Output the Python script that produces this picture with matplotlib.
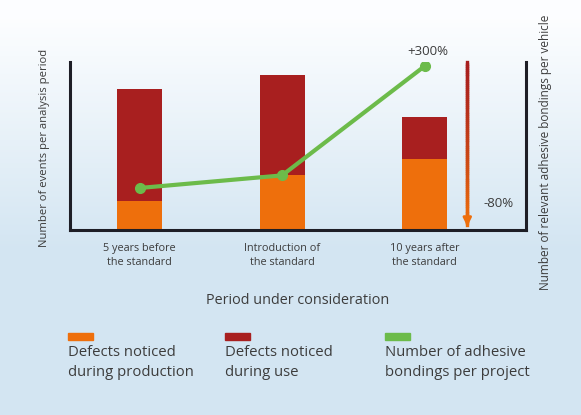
import numpy as np
import matplotlib
matplotlib.use('Agg')
import matplotlib.pyplot as plt
from matplotlib.collections import LineCollection
from matplotlib.patches import Rectangle

# data (arbitrary units)
periods = ['5 years before\nthe standard', 'Introduction of\nthe standard', '10 years after\nthe standard']
defects_production = [17, 33, 42]
defects_use = [67, 59, 25]
bondings = [1.0, 1.3, 3.9]

c_orange = '#ee6f0c'
c_red = '#a81f1f'
c_green = '#6cbb4a'
c_text = '#3c3c3c'

plt.rcParams['font.family'] = ['Open Sans', 'DejaVu Sans']

fig = plt.figure(figsize=(5.81, 4.15), dpi=100)
W, H = 581, 415

# background gradient (white at top, light blue at bottom)
bg = fig.add_axes([0, 0, 1, 1], zorder=-10)
grad = np.linspace(0, 1, 256)
top = np.array([0.99, 0.995, 1.0])
bot = np.array([0.83, 0.90, 0.95])
w = np.clip((grad - 0.05) / 0.55, 0, 1)
img = top * (1 - w)[:, None] + bot * w[:, None]
bg.imshow(img.reshape(256, 1, 3), aspect='auto', extent=[0, 1, 0, 1], origin='upper')
bg.set_axis_off()

ax = fig.add_axes([70 / W, 1 - 230 / H, 456 / W, 168 / H])
ax.patch.set_alpha(0)
x = np.arange(len(periods))
ax.bar(x, defects_production, width=0.316, color=c_orange, zorder=2)
ax.bar(x, defects_use, width=0.316, bottom=defects_production, color=c_red, zorder=2)
ax.set_xlim(-0.488, 2.712)
ax.set_ylim(0, 100)
ax.spines['top'].set_visible(False)
for s in ['left', 'right', 'bottom']:
    ax.spines[s].set_linewidth(2.2)
    ax.spines[s].set_color('#1e1e26')
ax.set_xticks(x)
ax.set_xticklabels(periods, fontsize=7.8, color=c_text, linespacing=1.45)
ax.tick_params(axis='x', length=0, pad=9)
ax.set_yticks([])
ax.set_xlabel('Period under consideration', fontsize=10.4, color=c_text, labelpad=18)

ax2 = ax.twinx()
ax2.set_ylim(0, 4)
ax2.plot(x, bondings, color=c_green, lw=3, marker='o', ms=7, zorder=3)
ax2.set_yticks([])
for s in ax2.spines.values():
    s.set_visible(False)

# gradient arrow (-80%)
ax_x = 2.30
ys = np.linspace(100, 3, 80)
pts = np.column_stack([np.full_like(ys, ax_x), ys])
segs = np.stack([pts[:-1], pts[1:]], axis=1)
rgb_r = np.array(matplotlib.colors.to_rgb(c_red))
rgb_o = np.array(matplotlib.colors.to_rgb(c_orange))
cols = [rgb_r * (1 - t) + rgb_o * t for t in np.linspace(0, 1, len(segs)) ** 1.3]
ax.add_collection(LineCollection(segs, colors=cols, linewidths=2.4, capstyle='projecting',
                                 zorder=3, clip_on=False))
ax.annotate('', xy=(ax_x, 0.5), xytext=(ax_x, 6),
            arrowprops=dict(arrowstyle='-|>', color=c_orange, lw=2, mutation_scale=12), zorder=4)
ax.text(2.52, 16, '-80%', fontsize=9.5, color=c_text, ha='center', va='center')
ax2.text(2.02, 4.25, '+300%', fontsize=9.5, color=c_text, ha='center', va='center', clip_on=False)

# y labels
fig.text(45 / W, 1 - 148 / H, 'Number of events per analysis period', rotation=90,
         fontsize=8.1, color=c_text, ha='center', va='center')
fig.text(546 / W, 1 - 152 / H, 'Number of relevant adhesive bondings per vehicle', rotation=90,
         fontsize=8.5, color=c_text, ha='center', va='center')

# legend
legend_items = [('Defects noticed\nduring production', c_orange, 68),
                ('Defects noticed\nduring use', c_red, 225),
                ('Number of adhesive\nbondings per project', c_green, 385)]
for label, col, px in legend_items:
    fig.patches.append(Rectangle((px / W, 1 - 340 / H), 25 / W, 7 / H, color=col,
                                 transform=fig.transFigure))
    fig.text(px / W, 1 - 345 / H, label, fontsize=10.7, color=c_text, ha='left', va='top',
             linespacing=1.42)

fig.savefig('out.png', dpi=100)
